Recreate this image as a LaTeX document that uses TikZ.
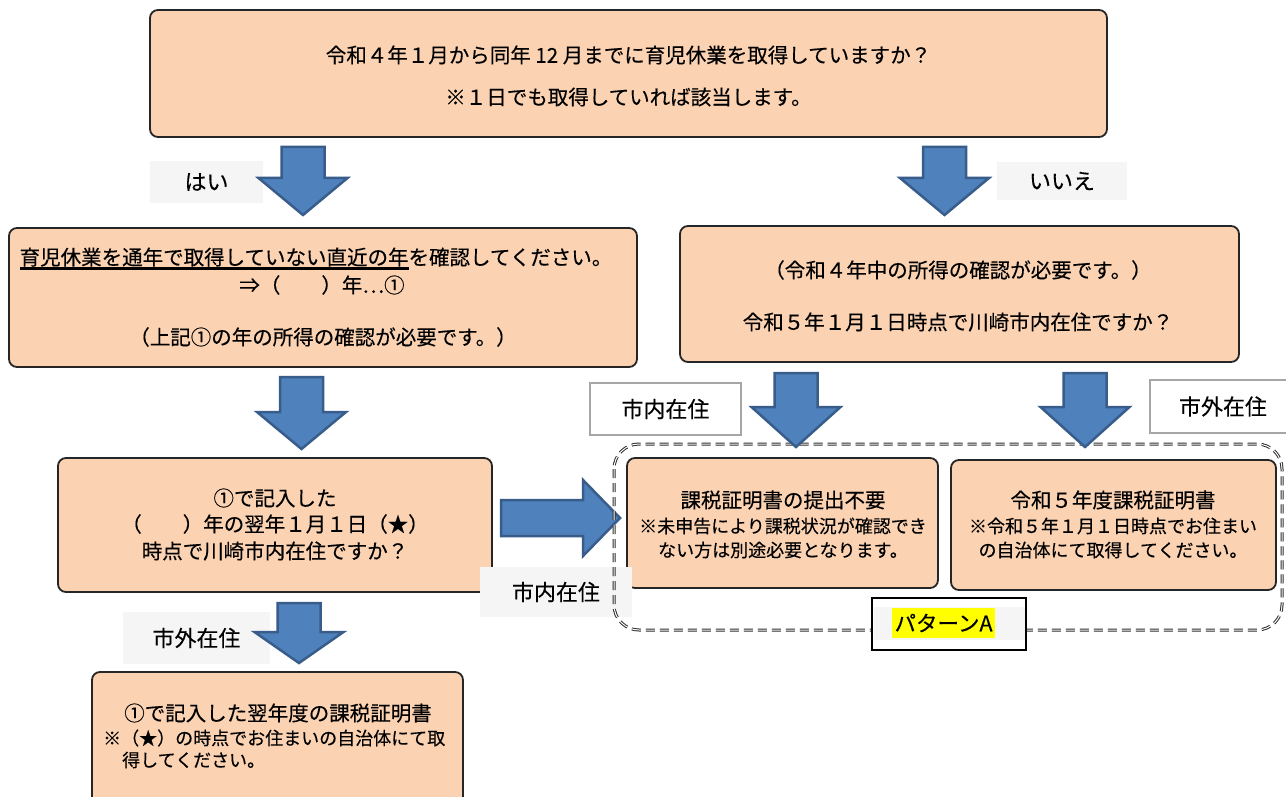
\documentclass[tikz,border=0pt]{standalone}
\usepackage{fontspec}
\setmainfont{Noto Sans CJK JP}[FakeBold=0.3]
\definecolor{peach}{HTML}{FBD3B3}
\definecolor{boxline}{HTML}{262626}
\definecolor{arrowblue}{HTML}{4F81BD}
\definecolor{arrowline}{HTML}{385D8A}
\definecolor{lblbg}{HTML}{F5F5F5}
\definecolor{lblborder}{HTML}{A6A6A6}
\definecolor{dashcol}{HTML}{2E2E2E}
\definecolor{hiyellow}{HTML}{FFFF00}
\newcommand\ulx[1]{\setbox0\hbox{#1}\rlap{\rule[-5.5pt]{\wd0}{3.2pt}}\box0}
\newcommand\DownArrow[4]{%
  \draw[blockarrow] (#1-21.5,#2) -- (#1+21.5,#2) -- (#1+21.5,#3) -- (#1+44.5,#3)
    -- (#1,#4) -- (#1-44.5,#3) -- (#1-21.5,#3) -- cycle;}
\begin{document}
\begin{tikzpicture}[x=1pt,y=-1pt,
  box/.style={draw=boxline, fill=peach, line width=1.8pt, rounded corners=8pt, inner sep=0pt},
  txt/.style={font=\fontsize{20.5}{24}\selectfont, inner sep=0pt},
  notetxt/.style={font=\fontsize{18}{22}\selectfont, inner sep=0pt},
  lblgray/.style={fill=lblbg, inner sep=0pt, font=\fontsize{22}{26}\selectfont},
  lblwhite/.style={fill=white, draw=lblborder, line width=1.5pt, inner sep=0pt, font=\fontsize{22}{26}\selectfont},
  blockarrow/.style={fill=arrowblue, draw=arrowline, line width=2.5pt, line join=miter},
  groupbox/.style={draw=dashcol, line width=1pt, double=white, double distance=1pt,
    dash pattern=on 9pt off 5pt, rounded corners=25pt}
]
\useasboundingbox (0,0) rectangle (1286,797);
\fill[white] (0,0) rectangle (1286,797);

% top question
\node[box, minimum width=957pt, minimum height=127pt] (q1) at (628.5,73.5) {};
\node[txt] (q1a) at (628.5,55) {令和４年１月から同年 12 月までに育児休業を取得していますか？};
\node[txt] (q1b) at (628.5,97) {※１日でも取得していれば該当します。};

% yes branch box
\node[box, minimum width=628pt, minimum height=139pt] (y2) at (323,297.5) {};
\node[txt] (y2a) at (316,259) {\ulx{育児休業を通年で取得していない直近の年}を確認してください。};
\node[txt] (y2b) at (322,285) {⇒（　　）年…①};
\node[txt] (y2c) at (323,337) {（上記①の年の所得の確認が必要です。）};

% no branch box
\node[box, minimum width=559pt, minimum height=136pt] (n2) at (959.5,294) {};
\node[txt] (n2a) at (958,270) {（令和４年中の所得の確認が必要です。）};
\node[txt] (n2b) at (958,322) {令和５年１月１日時点で川崎市内在住ですか？};

% box 3
\node[box, minimum width=434pt, minimum height=134pt] (y3) at (275,525) {};
\node[txt] (y3a) at (275,498) {①で記入した};
\node[txt] (y3b) at (275,524) {（　　）年の翌年１月１日（★）};
\node[txt] (y3c) at (275,551) {時点で川崎市内在住ですか？};

% pattern A boxes
\node[box, minimum width=311pt, minimum height=130pt] (p1) at (782.5,523) {};
\node[txt] (p1a) at (783,500) {課税証明書の提出不要};
\node[notetxt] (p1b) at (783,526) {※未申告により課税状況が確認でき};
\node[notetxt] (p1c) at (783,550) {ない方は別途必要となります。};

\node[box, minimum width=325pt, minimum height=130pt] (p2) at (1113.5,525) {};
\node[txt] (p2a) at (1113,500) {令和５年度課税証明書};
\node[notetxt] (p2b) at (1113,526) {※令和５年１月１日時点でお住まい};
\node[notetxt] (p2c) at (1113,550) {の自治体にて取得してください。};

% bottom box
\node[box, minimum width=371pt, minimum height=158pt] (y4) at (277.5,751) {};
\node[txt] (y4a) at (278,713) {①で記入した翌年度の課税証明書};
\node[notetxt, anchor=west] (y4b) at (103,738) {※（★）の時点でお住まいの自治体にて取};
\node[notetxt, anchor=west] (y4c) at (122,760) {得してください。};

% labels
\node[lblgray, minimum width=113pt, minimum height=42pt] (lyes) at (206.5,182) {はい};
\node[lblgray, minimum width=130pt, minimum height=38pt] (lno) at (1062,181) {いいえ};
\node[lblwhite, minimum width=151pt, minimum height=52pt] (lin1) at (665.5,409) {市内在住};
\node[lblwhite, minimum width=140pt, minimum height=53pt, text width=136pt, align=left] (lout1) at (1220,406.5) {\hspace*{27pt}市外在住};
\node[lblgray, minimum width=147pt, minimum height=52pt] (lout2) at (196.5,638) {市外在住};
\node[lblgray, minimum width=152pt, minimum height=50pt] (lin2) at (556,592) {市内在住};

% block arrows
\DownArrow{303}{147}{178}{215}
\DownArrow{944.5}{147}{178}{215}
\DownArrow{301.5}{377}{412}{449}
\draw[blockarrow] (501,500) -- (583,500) -- (583,480) -- (620,518) -- (583,556) -- (583,536) -- (501,536) -- cycle;
\DownArrow{299}{603}{632}{663}

% group (pattern A)
\draw[groupbox] (614,444) rectangle (1282,630);
\DownArrow{796}{373}{407}{447}
\DownArrow{1085}{373}{407}{447}

\node[fill=white, draw=black, line width=2pt, minimum width=154pt, minimum height=52pt, inner sep=0pt] (pa) at (949,624) {};
\fill[lblbg] (874,607) rectangle (1025,640);
\node[fill=hiyellow, minimum width=103pt, minimum height=30pt, inner sep=0pt, font=\fontsize{21.5}{25}\selectfont] (pat) at (943.5,623) {パターンA};
\end{tikzpicture}
\end{document}
